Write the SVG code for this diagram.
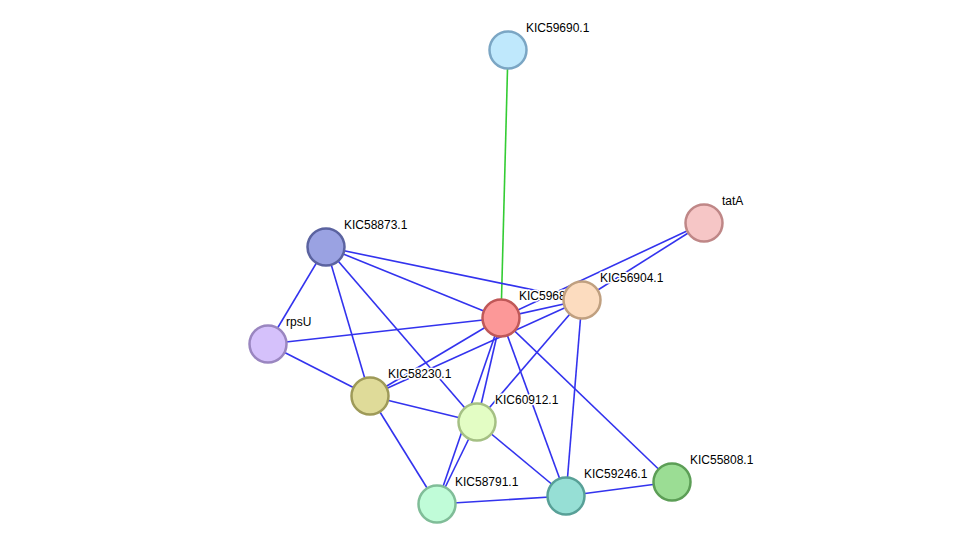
<svg xmlns="http://www.w3.org/2000/svg" width="976" height="549" viewBox="0 0 976 549">
<style>
.e{stroke:#3333ee;stroke-width:1.6;fill:none}
.n circle{stroke-width:2.5}
text{font-family:"Liberation Sans",Arial,sans-serif;font-size:12px;fill:#000;stroke:#fff;stroke-width:3;paint-order:stroke;stroke-linejoin:round}
</style>
<rect width="976" height="549" fill="#fff"/>
<g id="edges">
<line x1="508" y1="50" x2="501" y2="318" stroke="#33cc33" stroke-width="1.6"/>
<line class="e" x1="704" y1="223" x2="501" y2="318"/>
<line class="e" x1="704" y1="223" x2="582" y2="300"/>
<line class="e" x1="326" y1="247" x2="501" y2="318"/>
<line class="e" x1="326" y1="247" x2="582" y2="300"/>
<line class="e" x1="326" y1="247" x2="268" y2="344"/>
<line class="e" x1="326" y1="247" x2="370" y2="396"/>
<line class="e" x1="326" y1="247" x2="477" y2="422"/>
<line class="e" x1="268" y1="344" x2="501" y2="318"/>
<line class="e" x1="268" y1="344" x2="370" y2="396"/>
<line class="e" x1="501" y1="318" x2="582" y2="300"/>
<line class="e" x1="501" y1="318" x2="370" y2="396"/>
<line class="e" x1="501" y1="318" x2="477" y2="422"/>
<line class="e" x1="501" y1="318" x2="437" y2="504"/>
<line class="e" x1="501" y1="318" x2="566" y2="496"/>
<line class="e" x1="501" y1="318" x2="672" y2="482"/>
<line class="e" x1="582" y1="300" x2="370" y2="396"/>
<line class="e" x1="582" y1="300" x2="477" y2="422"/>
<line class="e" x1="582" y1="300" x2="566" y2="496"/>
<line class="e" x1="370" y1="396" x2="477" y2="422"/>
<line class="e" x1="370" y1="396" x2="437" y2="504"/>
<line class="e" x1="477" y1="422" x2="437" y2="504"/>
<line class="e" x1="477" y1="422" x2="566" y2="496"/>
<line class="e" x1="437" y1="504" x2="566" y2="496"/>
<line class="e" x1="566" y1="496" x2="672" y2="482"/>
</g>
<g id="n59690" class="n"><circle cx="508" cy="50" r="18.5" fill="#bfe8fc" stroke="#7ba6c4"/><text x="526" y="32">KIC59690.1</text></g>
<g id="ntatA" class="n"><circle cx="704" cy="223" r="18.5" fill="#f6c6c6" stroke="#bf8787"/><text x="722" y="205">tatA</text></g>
<g id="n58873" class="n"><circle cx="326" cy="247" r="18.5" fill="#9aa2e2" stroke="#5b63a0"/><text x="344" y="229">KIC58873.1</text></g>
<g id="ncenter" class="n"><circle cx="501" cy="318" r="18.5" fill="#fc9898" stroke="#c05858"/><text x="519" y="300">KIC59689.1</text></g>
<g id="n56904" class="n"><circle cx="582" cy="300" r="18.5" fill="#fcdcbf" stroke="#c0a080"/><text x="600" y="282">KIC56904.1</text></g>
<g id="nrpsU" class="n"><circle cx="268" cy="344" r="18.5" fill="#d5c1fb" stroke="#9a86c0"/><text x="286" y="326">rpsU</text></g>
<g id="n58230" class="n"><circle cx="370" cy="396" r="18.5" fill="#dfdb99" stroke="#9e9a58"/><text x="388" y="378">KIC58230.1</text></g>
<g id="n60912" class="n"><circle cx="477" cy="422" r="18.5" fill="#e3fdc4" stroke="#a5c084"/><text x="495" y="404">KIC60912.1</text></g>
<g id="n55808" class="n"><circle cx="672" cy="482" r="18.5" fill="#9bdd94" stroke="#5c9e56"/><text x="690" y="464">KIC55808.1</text></g>
<g id="n59246" class="n"><circle cx="566" cy="496" r="18.5" fill="#96dfd5" stroke="#58a097"/><text x="584" y="478">KIC59246.1</text></g>
<g id="n58791" class="n"><circle cx="437" cy="504" r="18.5" fill="#c0fcd8" stroke="#80bd98"/><text x="455" y="486">KIC58791.1</text></g>
</svg>
